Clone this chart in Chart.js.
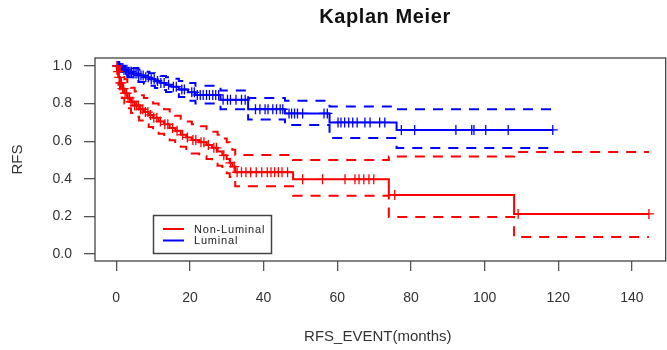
<!DOCTYPE html>
<html>
<head>
<meta charset="utf-8">
<script src="https://cdn.jsdelivr.net/npm/chart.js@4.4.1/dist/chart.umd.min.js"></script>
<style>
  html, body { margin: 0; padding: 0; background: #fff; }
  #wrap { width: 667px; height: 350px; }
</style>
</head>
<body>
<div id="wrap"><canvas id="km"></canvas></div>
<script>
// Non-Luminal (red): event times, survival and confidence limits after each time
const nlTimes = [0, 0.3, 0.6, 1.0, 1.5, 2.2, 3.0, 4.0, 5.0, 6.2, 7.5, 8.8, 10.0, 11.5, 13.0, 14.5, 16.0, 17.5, 19.0, 20.5, 22.5, 24.5, 26.0, 27.5, 28.8, 30.0, 30.8, 31.5, 32.3, 48.0, 74.0, 108.0];
const nlSurv  = [1.0, 0.97, 0.94, 0.91, 0.88, 0.855, 0.83, 0.81, 0.79, 0.77, 0.755, 0.74, 0.725, 0.705, 0.69, 0.67, 0.655, 0.635, 0.62, 0.606, 0.595, 0.58, 0.565, 0.545, 0.525, 0.505, 0.485, 0.465, 0.435, 0.397, 0.314, 0.213];
const nlUpper = [1.0, 1.0, 0.99, 0.97, 0.95, 0.93, 0.905, 0.885, 0.865, 0.845, 0.83, 0.815, 0.8, 0.785, 0.77, 0.75, 0.735, 0.72, 0.705, 0.69, 0.68, 0.665, 0.65, 0.635, 0.615, 0.595, 0.575, 0.555, 0.527, 0.50, 0.518, 0.543];
const nlLower = [1.0, 0.94, 0.90, 0.86, 0.83, 0.80, 0.775, 0.75, 0.73, 0.71, 0.69, 0.675, 0.66, 0.64, 0.625, 0.605, 0.585, 0.57, 0.55, 0.535, 0.52, 0.505, 0.49, 0.47, 0.45, 0.43, 0.41, 0.39, 0.36, 0.31, 0.197, 0.09];
const nlCensor = [0.2, 0.5, 0.8, 1.1, 1.4, 1.7, 2.0, 2.4, 2.8, 3.2, 3.6, 4.0, 4.5, 5.0, 5.5, 6.0, 6.6, 7.2, 7.9, 8.6, 9.3, 10.2, 11.0, 12.0, 13.2, 14.0, 15.3, 16.5, 18.0, 19.3, 20.8, 21.6, 23.0, 23.8, 25.0, 26.5, 27.2, 29.2, 31.0, 32.0, 32.8, 34.0, 35.2, 36.5, 38.0, 39.5, 41.0, 42.0, 43.0, 44.0, 45.0, 46.5, 50.6, 56.0, 62.1, 64.8, 65.9, 67.2, 68.6, 69.9, 75.6, 109.1, 144.6];
const nlEnd = 144.6;

// Luminal (blue)
const lumTimes = [0, 1, 2, 3, 4.5, 6, 7.5, 9, 10.5, 12, 13.5, 15, 17, 19.5, 21.5, 28.3, 35.8, 45.8, 57.9, 76.1];
const lumSurv  = [1, 0.99, 0.98, 0.97, 0.96, 0.95, 0.94, 0.93, 0.92, 0.91, 0.90, 0.89, 0.875, 0.86, 0.846, 0.82, 0.77, 0.748, 0.70, 0.66];
const lumUpper = [1, 1, 1, 0.995, 0.99, 0.98, 0.97, 0.962, 0.955, 0.947, 0.94, 0.932, 0.92, 0.91, 0.895, 0.87, 0.83, 0.815, 0.785, 0.77];
const lumLower = [1, 0.97, 0.955, 0.94, 0.93, 0.915, 0.905, 0.895, 0.883, 0.872, 0.862, 0.85, 0.835, 0.815, 0.80, 0.77, 0.715, 0.686, 0.617, 0.564];
const lumCensor = [0.3, 0.6, 0.9, 1.2, 1.5, 1.8, 2.1, 2.5, 2.9, 3.3, 3.7, 4.1, 4.6, 5.1, 5.6, 6.1, 6.7, 7.3, 8.0, 8.7, 9.5, 10.3, 11.2, 12.1, 13.0, 14.2, 15.5, 16.3, 17.8, 18.5, 20.5, 21.2, 22.0, 22.8, 23.6, 24.5, 25.3, 26.2, 27.0, 27.8, 29.0, 30.2, 31.0, 32.5, 34.0, 35.0, 37.8, 39.0, 40.4, 41.2, 42.5, 43.5, 44.5, 45.2, 46.9, 47.6, 48.4, 49.2, 50.6, 56.4, 57.3, 60.2, 61.0, 62.0, 63.1, 64.2, 65.4, 67.5, 68.9, 71.5, 72.9, 77.4, 81.0, 92.2, 96.5, 97.1, 100.3, 106.4, 118.5];
const lumEnd = 118.5;

const xTicks = [0, 20, 40, 60, 80, 100, 120, 140];
const yTicks = [0, 0.2, 0.4, 0.6, 0.8, 1.0];
const groupNames = ["Non-Luminal", "Luminal"];

const RED = "#ff0000";
const BLUE = "#0000ff";

function steps(times, vals, end) {
  const pts = times.map((t, i) => ({ x: t, y: vals[i] }));
  pts.push({ x: end, y: vals[vals.length - 1] });
  return pts;
}

function survAt(times, vals, t) {
  let v = vals[0];
  for (let i = 0; i < times.length; i++) if (times[i] <= t) v = vals[i];
  return v;
}

function stepLine(data, color, dashed) {
  return {
    type: "line",
    data,
    borderColor: color,
    borderWidth: 2,
    borderDash: dashed ? [10, 8] : [],
    stepped: true,
    pointRadius: 0,
    fill: false,
  };
}

function censorMarks(times, survT, survV, color) {
  return {
    type: "scatter",
    data: times.map((t) => ({ x: t, y: survAt(survT, survV, t) })),
    pointStyle: "cross",
    pointRadius: 5,
    borderColor: color,
    borderWidth: 1.3,
    backgroundColor: color,
  };
}

const frame = {
  id: "rframe",
  afterDraw(chart) {
    const { ctx, chartArea: a } = chart;
    ctx.save();
    // plot box
    ctx.strokeStyle = "#444";
    ctx.lineWidth = 1.3;
    ctx.strokeRect(a.left, a.top, a.right - a.left + 5, a.bottom - a.top);

    // title
    ctx.fillStyle = "#111";
    ctx.font = "bold 20px 'Liberation Sans', Arial, sans-serif";
    ctx.textAlign = "center";
    ctx.textBaseline = "middle";
    ctx.letterSpacing = "0.6px";
    ctx.fillText("Kaplan Meier", 385, 17);

    // legend
    ctx.letterSpacing = "0.8px";
    ctx.lineWidth = 1.5;
    ctx.strokeStyle = "#444";
    ctx.strokeRect(153.5, 215.5, 118, 38);
    const cols = [RED, BLUE];
    const ys = [229, 240.5];
    ctx.font = "11px 'Liberation Sans', Arial, sans-serif";
    ctx.textAlign = "left";
    groupNames.forEach((name, i) => {
      ctx.strokeStyle = cols[i];
      ctx.lineWidth = 2;
      ctx.beginPath();
      ctx.moveTo(163, ys[i]);
      ctx.lineTo(184, ys[i]);
      ctx.stroke();
      ctx.fillStyle = "#222";
      ctx.fillText(name, 194, ys[i] + 0.5);
    });
    ctx.restore();
  },
};

new Chart(document.getElementById("km"), {
  data: {
    datasets: [
      stepLine(steps(nlTimes, nlSurv, nlEnd), RED, false),
      stepLine(steps(nlTimes, nlUpper, nlEnd), RED, true),
      stepLine(steps(nlTimes, nlLower, nlEnd), RED, true),
      censorMarks(nlCensor, nlTimes, nlSurv, RED),
      stepLine(steps(lumTimes, lumSurv, lumEnd), BLUE, false),
      stepLine(steps(lumTimes, lumUpper, lumEnd), BLUE, true),
      stepLine(steps(lumTimes, lumLower, lumEnd), BLUE, true),
      censorMarks(lumCensor, lumTimes, lumSurv, BLUE),
    ],
  },
  options: {
    responsive: true,
    maintainAspectRatio: false,
    animation: false,
    layout: { padding: { top: 58, left: 0, right: 0, bottom: 0 } },
    plugins: {
      legend: { display: false },
      title: { display: false },
      tooltip: { enabled: false },
    },
    scales: {
      x: {
        type: "linear",
        min: -5.77,
        max: 147.8,
        afterBuildTicks: (s) => { s.ticks = xTicks.map((v) => ({ value: v })); },
        afterFit: (s) => { s.height = 89; },
        border: { display: false },
        grid: { drawOnChartArea: false, drawTicks: true, tickLength: 10, color: "#555", lineWidth: 1.3 },
        ticks: {
          padding: 19,
          color: "#333",
          font: { family: "'Liberation Sans', Arial, sans-serif", size: 14 },
          callback: (v) => String(v),
        },
        title: {
          display: true,
          text: "RFS_EVENT(months)",
          color: "#333",
          font: { family: "'Liberation Sans', Arial, sans-serif", size: 15 },
          padding: { top: 0, bottom: 4 },
        },
      },
      y: {
        type: "linear",
        min: -0.0372,
        max: 1.0426,
        afterBuildTicks: (s) => { s.ticks = yTicks.map((v) => ({ value: v })); },
        afterFit: (s) => { s.width = 95; },
        border: { display: false },
        grid: { drawOnChartArea: false, drawTicks: true, tickLength: 11, color: "#555", lineWidth: 1.3 },
        ticks: {
          padding: 12,
          color: "#333",
          font: { family: "'Liberation Sans', Arial, sans-serif", size: 14 },
          callback: (v) => v.toFixed(1),
        },
        title: {
          display: true,
          text: "RFS",
          color: "#333",
          font: { family: "'Liberation Sans', Arial, sans-serif", size: 15 },
          padding: { top: 9, bottom: 0 },
        },
      },
    },
  },
  plugins: [frame],
});
</script>
</body>
</html>
